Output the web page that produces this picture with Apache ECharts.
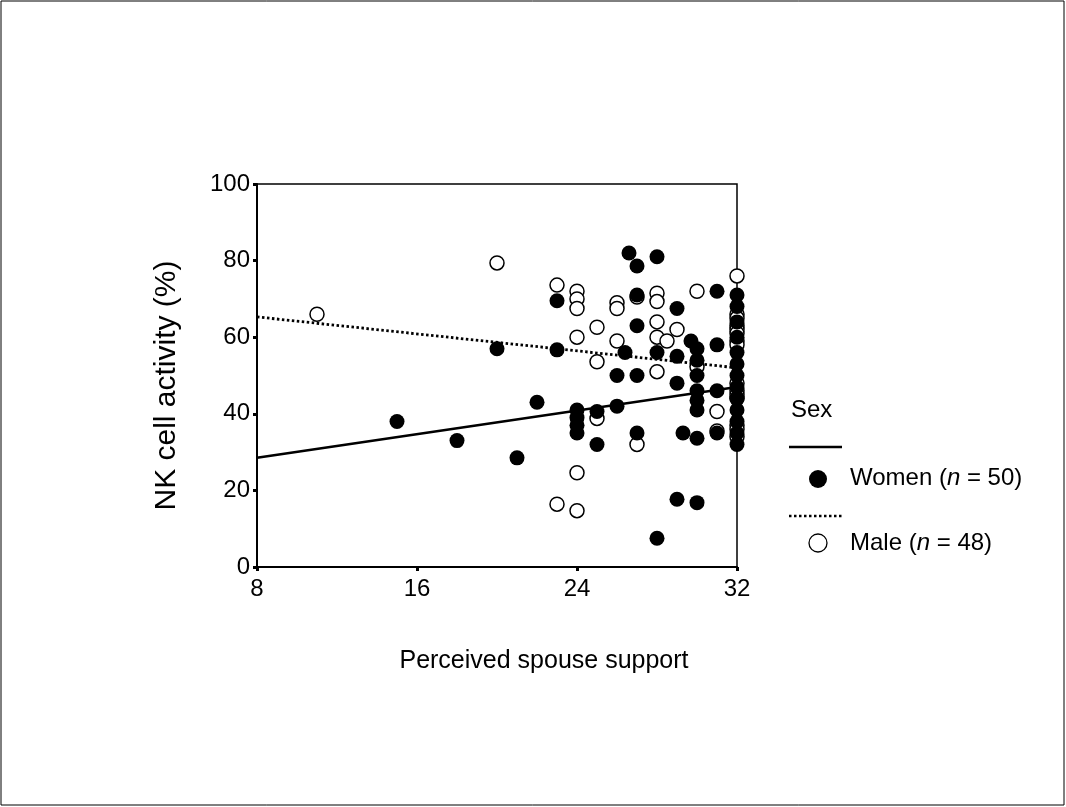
<!DOCTYPE html>
<html>
<head>
<meta charset="utf-8">
<script src="https://cdn.jsdelivr.net/npm/echarts@6/dist/echarts.min.js"></script>
<style>
html,body{margin:0;padding:0;background:#fff;}
#chart{width:1066px;height:807px;}
</style>
</head>
<body>
<div id="chart"></div>
<script>
// ---- data ----
var xTicks = [8, 16, 24, 32];
var yTicks = [0, 20, 40, 60, 80, 100];

var women = [
  [15,38],[18,33],[20,57],[21,28.5],[22,43],[23,69.5],[23,56.7],
  [24,41],[24,39],[24,37],[24,35],[25,40.6],[25,32],[26,42],[27,35],
  [27,71],[26.6,82],[27,78.6],[28,81],[27,63],[26.4,56],[26,50],[27,50],
  [28,56],[29,67.5],[29,55],[29,48],[31,72],[29.7,59],
  [30,57],[30,54],[30,50],[30,46],[30,43.5],[30,41],
  [29.3,35],[30,33.6],[29,17.7],[30,16.8],[28,7.5],[31,46],[31,58],[31,35],
  [32,71],[32,68],[32,64],[32,60],[32,56],[32,53],[32,50],[32,47],
  [32,44],[32,41],[32,38],[32,35],[32,32]
];
var male = [
  [11,66],[20,79.4],[23,73.6],[24,72],[24,70],[24,67.5],[25,62.6],[24,60],
  [25,53.6],[26,69],[26,67.5],[26,59],[28,71.5],[28,69.3],[28,64],[28,60],
  [28.5,59],[29,62],[28,51],[30,72],[30,52.3],[31,40.6],[31,35.5],[32,76],
  [25,38.8],[27,32],[24,24.6],[23,16.4],[24,14.7],
  [32,66],[32,65],[32,63],[32,62],[32,61],[32,59],[32,58],
  [32,48],[32,46],[32,45],[32,44],[32,37],[32,36],[32,34],[27,70.5]
];
var womenFit = [[8,28.5],[32,47]];
var maleFit = [[8,65.3],[32,52]];

var legendTitle = 'Sex';
var womenLabel = ['Women (', 'n', ' = 50)'];
var maleLabel = ['Male (', 'n', ' = 48)'];

// ---- chart ----
var chart = echarts.init(document.getElementById('chart'), null, {renderer:'canvas'});
var tickFont = {fontFamily:'Liberation Sans', fontSize:24, color:'#000'};
var richLegend = {
  a:{fontFamily:'Liberation Sans', fontSize:24, fill:'#000'},
  i:{fontFamily:'Liberation Sans', fontSize:24, fontStyle:'italic', fill:'#000'}
};
var option = {
  backgroundColor:'#fff',
  animation:false,
  grid:{left:257, top:184, right:329, bottom:240, show:true, borderColor:'#000', borderWidth:1.5, backgroundColor:'transparent'},
  xAxis:{
    type:'value', min:8, max:32, interval:8,
    name:'Perceived spouse support', nameLocation:'middle', nameGap:82,
    nameTextStyle:{fontFamily:'Liberation Sans', fontSize:25, color:'#000', padding:[0,0,0,94]},
    axisLine:{lineStyle:{color:'#000', width:2}},
    axisTick:{show:true, length:4, lineStyle:{color:'#000', width:3}, inside:false},
    axisLabel:Object.assign({margin:10}, tickFont),
    splitLine:{show:false}
  },
  yAxis:{
    type:'value', min:0, max:100, interval:20,
    name:'NK cell activity (%)', nameLocation:'middle', nameGap:75,
    nameTextStyle:{fontFamily:'Liberation Sans', fontSize:30, color:'#000', padding:[0,20,0,0]},
    axisLine:{lineStyle:{color:'#000', width:2}},
    axisTick:{show:true, length:4, lineStyle:{color:'#000', width:3}},
    axisLabel:Object.assign({margin:7}, tickFont),
    splitLine:{show:false}
  },
  series:[
    {type:'line', data:womenFit, symbol:'none', lineStyle:{color:'#000', width:2.5, type:'solid'}, z:1},
    {type:'line', data:maleFit, symbol:'none', lineStyle:{color:'#000', width:2.8, type:[2.5,2.5]}, z:1},
    {type:'scatter', data:male, symbol:'circle', symbolSize:14,
      itemStyle:{color:'#fff', borderColor:'#000', borderWidth:1.5, opacity:1}, z:2},
    {type:'scatter', data:women, symbol:'circle', symbolSize:15,
      itemStyle:{color:'#000', borderColor:'#000', borderWidth:0, opacity:1}, z:3}
  ],
  graphic:[
    {type:'rect', shape:{x:1, y:1, width:1063, height:804}, style:{fill:'none', stroke:'#000', lineWidth:1}, silent:true, z:-1},
    {type:'text', style:{x:791, y:410, verticalAlign:'middle', text:legendTitle, fontFamily:'Liberation Sans', fontSize:24, fill:'#000'}},
    {type:'line', shape:{x1:789, y1:447, x2:842, y2:447}, style:{stroke:'#000', lineWidth:2.5}},
    {type:'circle', shape:{cx:818, cy:479, r:9}, style:{fill:'#000'}},
    {type:'text', style:{x:850, y:478, verticalAlign:'middle',
      text:'{a|'+womenLabel[0]+'}{i|'+womenLabel[1]+'}{a|'+womenLabel[2]+'}', rich:richLegend}},
    {type:'line', shape:{x1:789, y1:516, x2:842, y2:516}, style:{stroke:'#000', lineWidth:2.5, lineDash:[2.5,2.5]}},
    {type:'circle', shape:{cx:818, cy:543, r:9}, style:{fill:'#fff', stroke:'#000', lineWidth:1.3}},
    {type:'text', style:{x:850, y:543, verticalAlign:'middle',
      text:'{a|'+maleLabel[0]+'}{i|'+maleLabel[1]+'}{a|'+maleLabel[2]+'}', rich:richLegend}}
  ]
};
chart.setOption(option);
</script>
</body>
</html>
